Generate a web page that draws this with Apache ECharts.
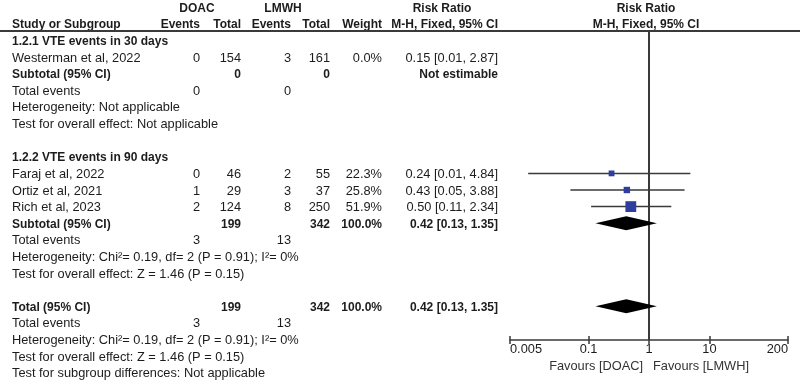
<!DOCTYPE html>
<html>
<head>
<meta charset="utf-8">
<script src="https://cdn.jsdelivr.net/npm/echarts@6/dist/echarts.min.js"></script>
<style>
  html, body { margin: 0; padding: 0; background: #fff; }
  #chart { width: 800px; height: 382px; }
</style>
</head>
<body>
<div id="chart"></div>
<script>
// study level data
const studies    = ['Westerman et al, 2022', 'Faraj et al, 2022', 'Ortiz et al, 2021', 'Rich et al, 2023'];
const studyGroup = [0, 1, 1, 1];
const doacEvents = [0, 0, 1, 2];
const doacTotal  = [154, 46, 29, 124];
const lmwhEvents = [3, 2, 3, 8];
const lmwhTotal  = [161, 55, 37, 250];
const weights    = [0.0, 22.3, 25.8, 51.9];
const rr         = [0.15, 0.24, 0.43, 0.50];
const rrLow      = [0.01, 0.01, 0.05, 0.11];
const rrHigh     = [2.87, 4.84, 3.88, 2.34];

// subgroup / total summaries
const groupNames   = ['1.2.1 VTE events in 30 days', '1.2.2 VTE events in 90 days'];
const groupDoacN   = [0, 199];
const groupLmwhN   = [0, 342];
const groupDoacEv  = [0, 3];
const groupLmwhEv  = [0, 13];
const groupWeight  = [null, 100.0];
const groupRR      = [null, 0.42];
const groupLow     = [null, 0.13];
const groupHigh    = [null, 1.35];
const groupHet     = ['Heterogeneity: Not applicable', 'Heterogeneity: Chi\u00b2= 0.19, df= 2 (P = 0.91); I\u00b2= 0%'];
const groupEffect  = ['Test for overall effect: Not applicable', 'Test for overall effect: Z = 1.46 (P = 0.15)'];

const total = { doacN: 199, lmwhN: 342, doacEv: 3, lmwhEv: 13, weight: 100.0, rr: 0.42, low: 0.13, high: 1.35 };
const totalHet = 'Heterogeneity: Chi\u00b2= 0.19, df= 2 (P = 0.91); I\u00b2= 0%';
const totalEffect = 'Test for overall effect: Z = 1.46 (P = 0.15)';
const subgroupTest = 'Test for subgroup differences: Not applicable';

const tickValues = [0.005, 0.1, 1, 10, 200];
const tickLabels = ['0.005', '0.1', '1', '10', '200'];

// column layout
const COL = {
  study: { x: 12,  align: 'left' },
  dE:    { x: 200, align: 'right' },
  dT:    { x: 241, align: 'right' },
  lE:    { x: 291, align: 'right' },
  lT:    { x: 330, align: 'right' },
  w:     { x: 382, align: 'right' },
  ci:    { x: 498, align: 'right' },
  hD:    { x: 197, align: 'center' },
  hL:    { x: 283, align: 'center' },
  hRR:   { x: 442, align: 'center' },
  hPlot: { x: 646, align: 'center' }
};

const fmtCI = (m, l, h) => m.toFixed(2) + ' [' + l.toFixed(2) + ', ' + h.toFixed(2) + ']';
const cell = (col, text, bold) => ({ col, text: String(text), bold: !!bold });

// build table rows; each row may carry a mark for the plot
const rows = [];
rows.push({ cells: [cell('hD', 'DOAC', 1), cell('hL', 'LMWH', 1), cell('hRR', 'Risk Ratio', 1), cell('hPlot', 'Risk Ratio', 1)] });
rows.push({ cells: [cell('study', 'Study or Subgroup', 1), cell('dE', 'Events', 1), cell('dT', 'Total', 1),
  cell('lE', 'Events', 1), cell('lT', 'Total', 1), cell('w', 'Weight', 1), cell('ci', 'M-H, Fixed, 95% CI', 1),
  cell('hPlot', 'M-H, Fixed, 95% CI', 1)] });

groupNames.forEach((g, gi) => {
  if (gi > 0) rows.push({ cells: [] });
  rows.push({ cells: [cell('study', g, 1)] });
  studies.forEach((s, i) => {
    if (studyGroup[i] !== gi) return;
    rows.push({
      cells: [cell('study', s), cell('dE', doacEvents[i]), cell('dT', doacTotal[i]), cell('lE', lmwhEvents[i]),
        cell('lT', lmwhTotal[i]), cell('w', weights[i].toFixed(1) + '%'), cell('ci', fmtCI(rr[i], rrLow[i], rrHigh[i]))],
      square: weights[i] > 0 ? [rr[i], rrLow[i], rrHigh[i], weights[i]] : null
    });
  });
  const sub = [cell('study', 'Subtotal (95% CI)', 1), cell('dT', groupDoacN[gi], 1), cell('lT', groupLmwhN[gi], 1)];
  if (groupRR[gi] == null) {
    sub.push(cell('ci', 'Not estimable', 1));
    rows.push({ cells: sub });
  } else {
    sub.push(cell('w', groupWeight[gi].toFixed(1) + '%', 1), cell('ci', fmtCI(groupRR[gi], groupLow[gi], groupHigh[gi]), 1));
    rows.push({ cells: sub, diamond: [groupRR[gi], groupLow[gi], groupHigh[gi]] });
  }
  rows.push({ cells: [cell('study', 'Total events'), cell('dE', groupDoacEv[gi]), cell('lE', groupLmwhEv[gi])] });
  rows.push({ cells: [cell('study', groupHet[gi])] });
  rows.push({ cells: [cell('study', groupEffect[gi])] });
});
rows.push({ cells: [] });
rows.push({
  cells: [cell('study', 'Total (95% CI)', 1), cell('dT', total.doacN, 1), cell('lT', total.lmwhN, 1),
    cell('w', total.weight.toFixed(1) + '%', 1), cell('ci', fmtCI(total.rr, total.low, total.high), 1)],
  diamond: [total.rr, total.low, total.high]
});
rows.push({ cells: [cell('study', 'Total events'), cell('dE', total.doacEv), cell('lE', total.lmwhEv)] });
rows.push({ cells: [cell('study', totalHet)] });
rows.push({ cells: [cell('study', totalEffect)] });
rows.push({ cells: [cell('study', subgroupTest)] });

const FONT = '"Liberation Sans", Arial, sans-serif';
const FS = 12.8;      // regular text
const FSB = 12;       // bold text
const TEXT = '#1c1c1c';
const LINE = '#3a3a3a';
const BLUE = '#2f3e9e';

const squareData = [];
const diamondData = [];
rows.forEach((r, i) => {
  if (r.square) squareData.push([r.square[0], i, r.square[1], r.square[2], r.square[3]]);
  if (r.diamond) diamondData.push([r.diamond[0], i, r.diamond[1], r.diamond[2]]);
});

const chart = echarts.init(document.getElementById('chart'), null, { renderer: 'canvas' });

const option = {
  animation: false,
  backgroundColor: '#fff',
  grid: [
    { left: 510, right: 12, top: -2, bottom: -1 },
    { left: 510, right: 12, top: 32, bottom: 42 }
  ],
  xAxis: [
    { gridIndex: 0, type: 'log', logBase: 10, min: 0.005, max: 200, show: false },
    {
      gridIndex: 1, type: 'log', logBase: 10, min: 0.005, max: 200, position: 'bottom',
      axisLine: { lineStyle: { color: LINE, width: 1.5 } },
      axisTick: { customValues: tickValues, length: 4, lineStyle: { color: LINE, width: 1.5 } },
      axisLabel: {
        customValues: tickValues, margin: 3, color: TEXT, fontSize: FS, fontFamily: FONT,
        alignMinLabel: 'left', alignMaxLabel: 'right',
        formatter: v => tickLabels[tickValues.findIndex(t => Math.abs(t - v) / t < 1e-6)] || ''
      },
      splitLine: { show: false }
    },
    {
      gridIndex: 1, type: 'log', logBase: 10, min: 0.005, max: 200, position: 'bottom',
      axisLine: { show: false },
      axisTick: { customValues: tickValues, inside: true, length: 4, lineStyle: { color: LINE, width: 1.5 } },
      axisLabel: { show: false },
      splitLine: { show: false }
    }
  ],
  yAxis: [
    { gridIndex: 0, type: 'category', inverse: true, data: rows.map((r, i) => i), show: false },
    { gridIndex: 1, type: 'value', min: 0, max: 1, show: false }
  ],
  series: [
    {
      // table text
      type: 'custom', xAxisIndex: 0, yAxisIndex: 0, silent: true,
      data: rows.map((r, i) => [1, i]),
      renderItem: (params, api) => {
        const i = api.value(1);
        const y = api.coord([1, i])[1];
        return {
          type: 'group',
          children: rows[i].cells.map(c => ({
            type: 'text',
            style: {
              x: COL[c.col].x, y: y, text: c.text, fill: TEXT,
              font: c.bold ? 'bold ' + FSB + 'px ' + FONT : FS + 'px ' + FONT,
              align: COL[c.col].align, verticalAlign: 'middle'
            }
          }))
        };
      }
    },
    {
      // line of no effect
      type: 'custom', xAxisIndex: 1, yAxisIndex: 1, silent: true,
      data: [[1, 0]],
      renderItem: (params, api) => {
        const a = api.coord([1, 0]);
        const b = api.coord([1, 1]);
        return { type: 'line', shape: { x1: a[0], y1: a[1], x2: b[0], y2: b[1] }, style: { stroke: LINE, lineWidth: 2 } };
      },
      z: 1
    },
    {
      // study estimates with CI
      type: 'custom', xAxisIndex: 0, yAxisIndex: 0, silent: true,
      data: squareData,
      encode: { x: 0, y: 1 },
      renderItem: (params, api) => {
        const p = api.coord([api.value(0), api.value(1)]);
        const lo = api.coord([api.value(2), api.value(1)]);
        const hi = api.coord([api.value(3), api.value(1)]);
        const s = 2 + api.value(4) * 0.17;
        return {
          type: 'group',
          children: [
            { type: 'line', shape: { x1: lo[0], y1: p[1] - 1, x2: hi[0], y2: p[1] - 1 }, style: { stroke: LINE, lineWidth: 1.5 } },
            { type: 'rect', shape: { x: p[0] - s / 2, y: p[1] - 1 - s / 2, width: s, height: s }, style: { fill: BLUE } }
          ]
        };
      },
      z: 3
    },
    {
      // pooled estimates
      type: 'custom', xAxisIndex: 0, yAxisIndex: 0, silent: true,
      data: diamondData,
      encode: { x: 0, y: 1 },
      renderItem: (params, api) => {
        const p = api.coord([api.value(0), api.value(1)]);
        const lo = api.coord([api.value(2), api.value(1)]);
        const hi = api.coord([api.value(3), api.value(1)]);
        const h = 7, cy = p[1] - 1;
        return {
          type: 'polygon',
          shape: { points: [[lo[0], cy], [p[0], cy - h], [hi[0], cy], [p[0], cy + h]] },
          style: { fill: '#000' }
        };
      },
      z: 3
    }
  ]
};

chart.setOption(option);

// header rule and favour labels either side of the line of no effect
const x1 = chart.convertToPixel({ xAxisIndex: 1 }, 1);
chart.setOption({
  graphic: [
    { type: 'line', shape: { x1: 0, y1: 31, x2: 800, y2: 31 }, style: { stroke: LINE, lineWidth: 2 }, z: 10 },
    { type: 'text', x: x1 - 6, y: 366, style: { text: 'Favours [DOAC]', fill: '#333', font: FS + 'px ' + FONT, align: 'right', verticalAlign: 'middle' } },
    { type: 'text', x: x1 + 4, y: 366, style: { text: 'Favours [LMWH]', fill: '#333', font: FS + 'px ' + FONT, align: 'left', verticalAlign: 'middle' } }
  ]
});
</script>
</body>
</html>
